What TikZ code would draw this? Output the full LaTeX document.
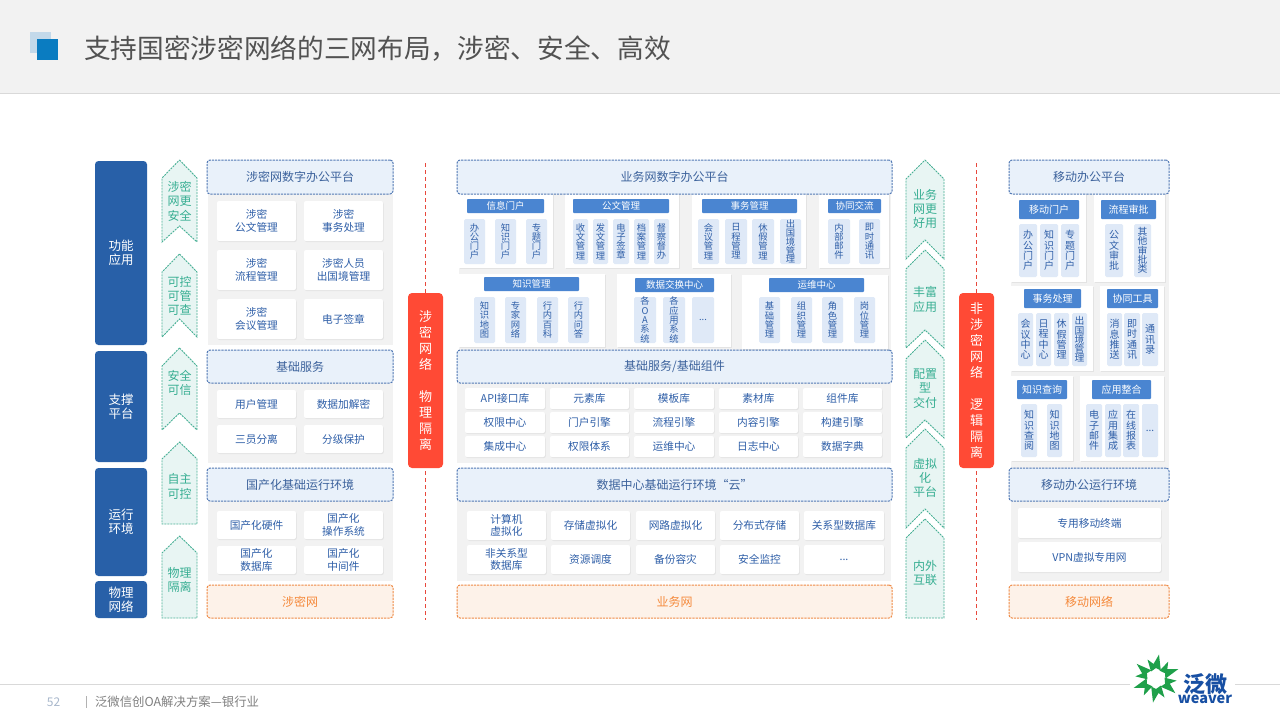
\documentclass[tikz,border=0pt]{standalone}
\usepackage{fontspec}
\setmainfont{Noto Sans CJK SC}
\usetikzlibrary{shadows}
\definecolor{darkblue}{HTML}{2860A8}
\definecolor{hdrfill}{HTML}{E9F1FA}
\definecolor{hdrline}{HTML}{5178B4}
\definecolor{hdrtext}{HTML}{3C629C}
\definecolor{panelgray}{HTML}{F2F2F2}
\definecolor{cardtext}{HTML}{2F5FA8}
\definecolor{subblue}{HTML}{4A85D1}
\definecolor{pale}{HTML}{DFE9F7}
\definecolor{grnfill}{HTML}{E8F5F3}
\definecolor{grnline}{HTML}{48B095}
\definecolor{grntext}{HTML}{37AE92}
\definecolor{orgfill}{HTML}{FDF2E9}
\definecolor{orgline}{HTML}{EF8A45}
\definecolor{orgtext}{HTML}{F58A3C}
\definecolor{redbox}{HTML}{FF4A35}
\definecolor{redline}{HTML}{E8483C}
\definecolor{shadowc}{HTML}{E3E3E3}
\definecolor{logogreen}{HTML}{1FA04A}
\definecolor{logoblue}{HTML}{174FA3}
\definecolor{pagenum}{HTML}{A9B8CC}
\tikzset{
  base/.style={inner sep=0pt,outer sep=0pt,align=center},
  leftbar/.style={base,fill=darkblue,rounded corners=3.5pt,text=white,font=\fontsize{12.5}{14.5}\selectfont},
  hdr/.style={base,fill=hdrfill,draw=hdrline,dashed,dash pattern=on 2.2pt off 1pt,line width=1pt,rounded corners=3pt,text=hdrtext,font=\fontsize{12}{14}\selectfont},
  net/.style={hdr,fill=orgfill,draw=orgline,text=orgtext},
  panel/.style={base,fill=panelgray},
  card/.style={base,fill=white,rounded corners=2pt,general shadow={shadow xshift=.8pt,shadow yshift=-1pt,fill=shadowc},text=cardtext,font=\fontsize{10.7}{12.7}\selectfont},
  wbox/.style={base,fill=white,general shadow={shadow xshift=1pt,shadow yshift=-1pt,fill=shadowc}},
  sub/.style={base,fill=subblue,rounded corners=.8pt,text=white,font=\fontsize{9.5}{11}\selectfont},
  subm/.style={sub,font=\fontsize{10}{11}\selectfont},
  tiny/.style={base,fill=pale,rounded corners=1.5pt,text=cardtext,font=\fontsize{9.3}{9.3}\selectfont},
  tinyc/.style={tiny,font=\fontsize{9.3}{8.9}\selectfont},
  tinym/.style={base,fill=pale,rounded corners=1.5pt,text=cardtext,font=\fontsize{10}{10.3}\selectfont},
  tinyf/.style={tinym,font=\fontsize{9.8}{9.3}\selectfont},
  redtag/.style={base,fill=redbox,rounded corners=4pt,text=white,font=\fontsize{13}{16}\selectfont},
  chev/.style={fill=grnfill,draw=grnline,dashed,dash pattern=on 2pt off 1pt,line width=.9pt},
  chevtext/.style={base,text=grntext,font=\fontsize{12}{14.4}\selectfont},
  sep/.style={draw=redline,dashed,dash pattern=on 4pt off 3pt,line width=.9pt},
}
% style, name, x0, y0, x1, y1, text
\newcommand{\bx}[7]{\node[#1,minimum width={(#5-#3)*1pt},minimum height={(#6-#4)*1pt}] (#2) at ({(#3+#5)/2},{(#4+#6)/2}) {#7};}
% x0,x1,apex,shoulder,notch,bottom
\newcommand{\chv}[6]{\draw[chev] ({(#1+#2)/2},#3) -- (#2,#4) -- (#2,#6) -- ({(#1+#2)/2},#5) -- (#1,#6) -- (#1,#4) -- cycle;}
\begin{document}
\begin{tikzpicture}[x=1pt,y=-1pt]
\useasboundingbox (0,0) rectangle (1280,720);
\fill[white] (0,0) rectangle (1280,720);
% top band
\fill[panelgray] (0,0) rectangle (1280,93);
\draw[draw=black!15,line width=1pt] (0,93.5) -- (1280,93.5);
\fill[fill={rgb,255:red,195;green,217;blue,234}] (30,32) rectangle (51,53);
\fill[fill={rgb,255:red,10;green,124;blue,193}] (37,39) rectangle (58,60);
\node[base,anchor=west,text=black!68,font=\fontsize{26.67}{30}\selectfont] (title) at (84,48.5) {支持国密涉密网络的三网布局，涉密、安全、高效};

% left bars
\bx{leftbar}{lb1}{95}{161}{147}{345}{功能\\应用}
\bx{leftbar}{lb2}{95}{351}{147}{462}{支撑\\平台}
\bx{leftbar}{lb3}{95}{468}{147}{576}{运行\\环境}
\bx{leftbar}{lb4}{95}{581}{147}{618}{物理\\网络}

% left chevrons
\chv{162}{197}{160}{178}{226}{242}
\chv{162}{197}{254}{272}{319}{337}
\chv{162}{197}{348}{366}{413}{430}
\chv{162}{197}{442}{459}{524}{524}
\chv{162}{197}{536}{553}{618}{618}
\node[chevtext] (ct1) at (179.5,201) {涉密\\网更\\安全};
\node[chevtext] (ct2) at (179.5,296) {可控\\可管\\可查};
\node[chevtext] (ct3) at (179.5,383) {安全\\可信};
\node[chevtext] (ct4) at (179.5,486.5) {自主\\可控};
\node[chevtext] (ct5) at (179.5,580) {物理\\隔离};

% left column
\bx{panel}{lp1}{208}{194}{393}{345}{}
\bx{panel}{lp2}{208}{383}{393}{463}{}
\bx{panel}{lp3}{208}{501}{393}{581}{}
\bx{hdr}{lh1}{207}{160}{393}{194}{涉密网数字办公平台}
\bx{hdr}{lh2}{207}{350}{393}{383}{基础服务}
\bx{hdr}{lh3}{207}{468}{393}{501}{国产化基础运行环境}
\bx{net}{lh4}{207}{585}{393}{618}{涉密网}
\bx{card}{lc1}{217}{201}{296}{241}{涉密\\公文管理}
\bx{card}{lc2}{304}{201}{383}{241}{涉密\\事务处理}
\bx{card}{lc3}{217}{250}{296}{290}{涉密\\流程管理}
\bx{card}{lc4}{304}{250}{383}{290}{涉密人员\\出国境管理}
\bx{card}{lc5}{217}{299}{296}{339}{涉密\\会议管理}
\bx{card}{lc6}{304}{299}{383}{339}{电子签章}
\bx{card}{lc7}{217}{390}{296}{418}{用户管理}
\bx{card}{lc8}{304}{390}{383}{418}{数据加解密}
\bx{card}{lc9}{217}{425}{296}{453}{三员分离}
\bx{card}{lc10}{304}{425}{383}{453}{分级保护}
\bx{card}{lc11}{217}{511}{296}{539}{国产化硬件}
\bx{card}{lc12}{304}{511}{383}{539}{国产化\\操作系统}
\bx{card}{lc13}{217}{546}{296}{574}{国产化\\数据库}
\bx{card}{lc14}{304}{546}{383}{574}{国产化\\中间件}

% separators
\coordinate (s1a) at (425,163); \coordinate (s1b) at (425,620);
\coordinate (s2a) at (976,163); \coordinate (s2b) at (976,620);
\draw[sep] (s1a) -- (s1b);
\draw[sep] (s2a) -- (s2b);
\bx{redtag}{r1}{408}{293}{443}{468}{涉\\密\\网\\络\\~\\物\\理\\隔\\离}
\bx{redtag}{r2}{959}{293}{994}{468}{非\\涉\\密\\网\\络\\~\\逻\\辑\\隔\\离}

% centre column
\bx{panel}{cp1}{459}{194}{891}{350}{}
\bx{panel}{cp2}{457}{383}{891}{463}{}
\bx{panel}{cp3}{457}{501}{891}{581}{}
% white groups
\bx{wbox}{w1}{459}{190}{553}{268}{}
\bx{wbox}{w2}{565}{190}{679}{268}{}
\bx{wbox}{w3}{692}{190}{806}{268}{}
\bx{wbox}{w4}{819}{190}{889}{268}{}
\bx{wbox}{w5}{459}{274}{605}{347}{}
\bx{wbox}{w6}{617}{274}{731}{347}{}
\bx{wbox}{w7}{742}{275}{888}{349}{}
\bx{hdr}{ch1}{457}{160}{892}{194}{业务网数字办公平台}
\bx{hdr}{ch2}{457}{350}{892}{383}{基础服务/基础组件}
\bx{hdr}{ch3}{457}{468}{892}{501}{数据中心基础运行环境“云”}
\bx{net}{ch4}{457}{585}{892}{618}{业务网}
\bx{sub}{s1}{467}{199}{544}{213}{信息门户}
\bx{sub}{s2}{573}{199}{669}{213}{公文管理}
\bx{sub}{s3}{702}{199}{797}{213}{事务管理}
\bx{sub}{s4}{828}{199}{881}{213}{协同交流}
\bx{sub}{s5}{484}{277}{579}{291}{知识管理}
\bx{sub}{s6}{635}{278}{714}{292}{数据交换中心}
\bx{sub}{s7}{769}{278}{864}{292}{运维中心}
\bx{tiny}{t1}{464}{219}{485}{264}{办\\公\\门\\户}
\bx{tiny}{t2}{495}{219}{516}{264}{知\\识\\门\\户}
\bx{tiny}{t3}{526}{219}{547}{264}{专\\题\\门\\户}
\bx{tiny}{t4}{573}{219}{588}{264}{收\\文\\管\\理}
\bx{tiny}{t5}{593}{219}{608}{264}{发\\文\\管\\理}
\bx{tiny}{t6}{613}{219}{629}{264}{电\\子\\签\\章}
\bx{tiny}{t7}{634}{219}{649}{264}{档\\案\\管\\理}
\bx{tiny}{t8}{654}{219}{669}{264}{督\\察\\督\\办}
\bx{tiny}{t9}{698}{219}{719}{264}{会\\议\\管\\理}
\bx{tiny}{t10}{725}{219}{747}{264}{日\\程\\管\\理}
\bx{tiny}{t11}{752}{219}{774}{264}{休\\假\\管\\理}
\bx{tinyc}{t12}{780}{219}{801}{264}{出\\国\\境\\管\\理}
\bx{tiny}{t13}{828}{219}{850}{264}{内\\部\\邮\\件}
\bx{tiny}{t14}{859}{219}{880}{264}{即\\时\\通\\讯}
\bx{tiny}{t15}{474}{297}{495}{343}{知\\识\\地\\图}
\bx{tiny}{t16}{505}{297}{526}{343}{专\\家\\网\\络}
\bx{tiny}{t17}{537}{297}{558}{343}{行\\内\\百\\科}
\bx{tiny}{t18}{568}{297}{589}{343}{行\\内\\问\\答}
\bx{tiny}{t19}{634}{297}{656}{343}{各\\O\\A\\系\\统}
\bx{tiny}{t20}{663}{297}{685}{343}{各\\应\\用\\系\\统}
\bx{tiny}{t21}{692}{297}{714}{343}{...}
\bx{tiny}{t22}{759}{297}{780}{343}{基\\础\\管\\理}
\bx{tiny}{t23}{791}{297}{812}{343}{组\\织\\管\\理}
\bx{tiny}{t24}{822}{297}{843}{343}{角\\色\\管\\理}
\bx{tiny}{t25}{854}{297}{875}{343}{岗\\位\\管\\理}
% services
\bx{card}{m1}{465}{388}{545}{409}{API接口库}
\bx{card}{m2}{550}{388}{629}{409}{元素库}
\bx{card}{m3}{634}{388}{714}{409}{模板库}
\bx{card}{m4}{719}{388}{798}{409}{素材库}
\bx{card}{m5}{803}{388}{882}{409}{组件库}
\bx{card}{m6}{465}{412}{545}{433}{权限中心}
\bx{card}{m7}{550}{412}{629}{433}{门户引擎}
\bx{card}{m8}{634}{412}{714}{433}{流程引擎}
\bx{card}{m9}{719}{412}{798}{433}{内容引擎}
\bx{card}{m10}{803}{412}{882}{433}{构建引擎}
\bx{card}{m11}{465}{436}{545}{457}{集成中心}
\bx{card}{m12}{550}{436}{629}{457}{权限体系}
\bx{card}{m13}{634}{436}{714}{457}{运维中心}
\bx{card}{m14}{719}{436}{798}{457}{日志中心}
\bx{card}{m15}{803}{436}{882}{457}{数据字典}
\bx{card}{n1}{467}{511}{546}{540}{计算机\\虚拟化}
\bx{card}{n2}{551}{511}{630}{540}{存储虚拟化}
\bx{card}{n3}{636}{511}{715}{540}{网路虚拟化}
\bx{card}{n4}{720}{511}{799}{540}{分布式存储}
\bx{card}{n5}{804}{511}{884}{540}{关系型数据库}
\bx{card}{n6}{467}{545}{546}{574}{非关系型\\数据库}
\bx{card}{n7}{551}{545}{630}{574}{资源调度}
\bx{card}{n8}{636}{545}{715}{574}{备份容灾}
\bx{card}{n9}{720}{545}{799}{574}{安全监控}
\bx{card}{n10}{804}{545}{884}{574}{...}

% right chevrons
\chv{906}{944}{160}{179}{240}{259}
\chv{906}{944}{250}{269}{330}{348}
\chv{906}{944}{340}{359}{420}{438}
\chv{906}{944}{429}{448}{509}{528}
\chv{906}{944}{519}{538}{618}{618}
\node[chevtext] (rt1) at (925,209) {业务\\网更\\好用};
\node[chevtext] (rt2) at (925,299.5) {丰富\\应用};
\node[chevtext] (rt3) at (925,388.5) {配置\\型\\交付};
\node[chevtext] (rt4) at (925,478) {虚拟\\化\\平台};
\node[chevtext] (rt5) at (925,573) {内外\\互联};

% right column
\bx{panel}{rp1}{1011}{190}{1169}{468}{}
\bx{panel}{rp2}{1011}{501}{1169}{581}{}
\bx{wbox}{rw1}{1011}{190}{1086}{282}{}
\bx{wbox}{rw2}{1094}{190}{1165}{282}{}
\bx{wbox}{rw3}{1011}{286}{1093}{371}{}
\bx{wbox}{rw4}{1100}{286}{1164}{371}{}
\bx{wbox}{rw5}{1011}{376}{1073}{461}{}
\bx{wbox}{rw6}{1080}{376}{1164}{461}{}
\bx{hdr}{rh1}{1009}{160}{1169}{194}{移动办公平台}
\bx{hdr}{rh2}{1009}{468}{1169}{501}{移动办公运行环境}
\bx{net}{rh3}{1009}{585}{1169}{618}{移动网络}
\bx{subm}{rs1}{1019}{200}{1079}{219}{移动门户}
\bx{subm}{rs2}{1101}{200}{1156}{219}{流程审批}
\bx{subm}{rs3}{1024}{289}{1081}{308}{事务处理}
\bx{subm}{rs4}{1107}{289}{1158}{308}{协同工具}
\bx{subm}{rs5}{1017}{380}{1067}{399}{知识查询}
\bx{subm}{rs6}{1092}{380}{1151}{399}{应用整合}
\bx{tinym}{u1}{1019}{224}{1037}{277}{办\\公\\门\\户}
\bx{tinym}{u2}{1040}{224}{1058}{277}{知\\识\\门\\户}
\bx{tinym}{u3}{1061}{224}{1079}{277}{专\\题\\门\\户}
\bx{tinym}{u4}{1105}{224}{1123}{277}{公\\文\\审\\批}
\bx{tinyf}{u5}{1134}{224}{1151}{277}{其\\他\\审\\批\\类}
\bx{tinym}{u6}{1018}{313}{1033}{366}{会\\议\\中\\心}
\bx{tinym}{u7}{1036}{313}{1051}{366}{日\\程\\中\\心}
\bx{tinym}{u8}{1054}{313}{1069}{366}{休\\假\\管\\理}
\bx{tinyf}{u9}{1072}{313}{1087}{366}{出\\国\\境\\管\\理}
\bx{tinym}{u10}{1107}{313}{1122}{366}{消\\息\\推\\送}
\bx{tinym}{u11}{1124}{313}{1140}{366}{即\\时\\通\\讯}
\bx{tinym}{u12}{1142}{313}{1158}{366}{通\\讯\\录}
\bx{tinym}{u13}{1021}{404}{1037}{457}{知\\识\\查\\阅}
\bx{tinym}{u14}{1047}{404}{1062}{457}{知\\识\\地\\图}
\bx{tinym}{u15}{1086}{404}{1102}{457}{电\\子\\邮\\件}
\bx{tinym}{u16}{1105}{404}{1121}{457}{应\\用\\集\\成}
\bx{tinym}{u17}{1123}{404}{1139}{457}{在\\线\\报\\表}
\bx{tinym}{u18}{1142}{404}{1158}{457}{...}
\bx{card}{v1}{1018}{508}{1161}{538}{专用移动终端}
\bx{card}{v2}{1018}{542}{1161}{572}{VPN虚拟专用网}

% footer
\draw[draw=black!15,line width=1pt] (0,684) -- (1130,684);
\draw[draw=black!15,line width=1pt] (1235,684) -- (1280,684);
\node[base,anchor=center,text=pagenum,font=\fontsize{12}{13}\selectfont] (pg) at (53.5,702.5) {52};
\draw[draw=black!30,line width=.8pt] (86.5,696) -- (86.5,708);
\node[base,anchor=west,text=black!50,font=\fontsize{12.4}{13}\selectfont] (ft) at (95,702) {泛微信创OA解决方案—银行业};

% logo
\fill[white] (1130,660) rectangle (1235,710);
\foreach \a in {0,60,...,300}{
  \fill[logogreen,shift={(1156,678.5)},rotate=\a]
    (-5,-7) -- (-8.5,-19) -- (-2.5,-14.5) -- (3,-24) -- (4.8,-8) -- (0,-10.5) -- cycle;
}
\node[base,anchor=base,text=logoblue,font=\fontsize{22}{24}\bfseries\selectfont] (lgc) at (1205.5,692) {泛微};
\node[base,anchor=base,text=logoblue,font=\fontsize{14.5}{15}\bfseries\selectfont] (lge) at (1205,703.5) {weaver};
\end{tikzpicture}
\end{document}
